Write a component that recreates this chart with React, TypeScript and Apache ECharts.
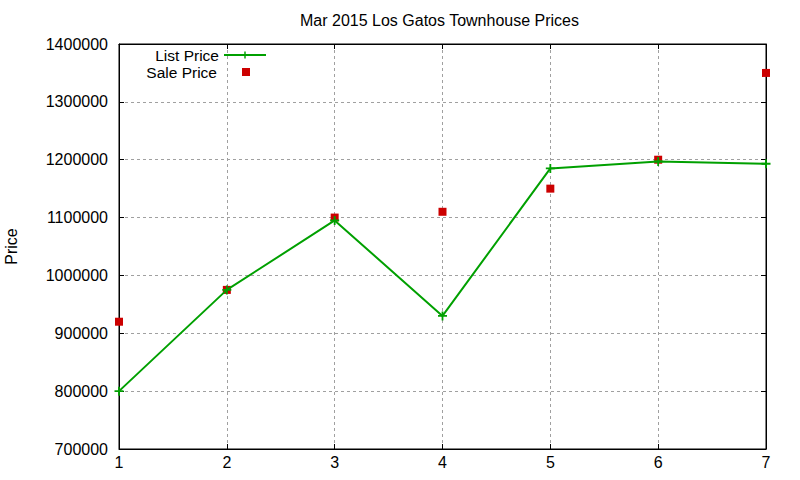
import React, { useEffect, useRef } from "react";
import * as echarts from "echarts";

const xValues = [1, 2, 3, 4, 5, 6, 7];
const listPrice = [800000, 975000, 1095000, 930000, 1185000, 1197000, 1193000];
const salePrice = [920000, 975000, 1100000, 1110000, 1150000, 1200000, 1350000];
const titleText = "Mar 2015 Los Gatos Townhouse Prices";
const yAxisName = "Price";
const seriesNames = ["List Price", "Sale Price"];

const FONT = "'Liberation Sans', Arial, sans-serif";
const PLUS = "path://M0,3.6H9V5.4H0ZM3.6,0H5.4V9H3.6Z";

export default function App() {
  const ref = useRef<HTMLDivElement>(null);
  useEffect(() => {
    document.body.style.margin = "0";
    const chart = echarts.init(ref.current!, null, { renderer: "svg" });
    const gridLine = { show: true, lineStyle: { color: "#a0a0a0", type: [3, 3] as any, width: 1 } };
    const axLine = { show: true, lineStyle: { color: "#000", width: 1 } };
    const tick = { show: true, inside: true, length: 5, lineStyle: { color: "#000", width: 1 } };
    const legendText = { fontSize: 15.5, lineHeight: 16, color: "#000", fontFamily: FONT };
    chart.setOption({
      animation: false,
      backgroundColor: "#fff",
      textStyle: { fontFamily: FONT },
      title: {
        text: titleText,
        left: 300,
        top: 12,
        padding: 0,
        textStyle: { fontSize: 16, fontWeight: "normal", color: "#000", fontFamily: FONT },
      },
      legend: [
        {
          orient: "vertical",
          align: "right",
          right: 533,
          top: 47,
          padding: 0,
          itemWidth: 42,
          itemHeight: 9,
          selectedMode: false,
          data: [seriesNames[0]],
          textStyle: legendText,
        },
        {
          orient: "vertical",
          align: "right",
          right: 550,
          top: 64,
          padding: 0,
          itemWidth: 8,
          itemHeight: 8,
          selectedMode: false,
          data: [seriesNames[1]],
          textStyle: { ...legendText, padding: [0, 20, 0, 0] },
        },
      ],
      grid: {
        left: 119,
        right: 34,
        top: 44,
        bottom: 31,
        outerBoundsMode: "none",
        containLabel: false,
        show: true,
        borderColor: "#000",
        borderWidth: 1,
        backgroundColor: "transparent",
      },
      xAxis: [
        {
          type: "value",
          min: 1,
          max: 7,
          interval: 1,
          position: "bottom",
          axisLine: axLine,
          axisTick: tick,
          splitLine: gridLine,
          axisLabel: { fontSize: 16, color: "#000", margin: 5, fontFamily: FONT },
        },
        {
          type: "value",
          min: 1,
          max: 7,
          interval: 1,
          position: "top",
          axisLine: axLine,
          axisTick: tick,
          splitLine: { show: false },
          axisLabel: { show: false },
        },
      ],
      yAxis: [
        {
          type: "value",
          min: 700000,
          max: 1400000,
          interval: 100000,
          position: "left",
          name: yAxisName,
          nameLocation: "middle",
          nameGap: 100,
          nameTextStyle: { fontSize: 16, color: "#000", fontFamily: FONT },
          axisLine: axLine,
          axisTick: tick,
          splitLine: gridLine,
          axisLabel: {
            fontSize: 16,
            color: "#000",
            margin: 11,
            fontFamily: FONT,
            formatter: (v: number) => String(v),
          },
        },
        {
          type: "value",
          min: 700000,
          max: 1400000,
          interval: 100000,
          position: "right",
          axisLine: axLine,
          axisTick: tick,
          splitLine: { show: false },
          axisLabel: { show: false },
        },
      ],
      series: [
        {
          name: seriesNames[0],
          type: "line",
          data: xValues.map((x, i) => [x, listPrice[i]]),
          lineStyle: { color: "#00a000", width: 2 },
          itemStyle: { color: "#00a000" },
          symbol: PLUS,
          symbolSize: 9,
          showAllSymbol: true,
        },
        {
          name: seriesNames[1],
          type: "scatter",
          data: xValues.map((x, i) => [x, salePrice[i]]),
          symbol: "rect",
          symbolSize: 8,
          itemStyle: { color: "#cc0000", opacity: 1 },
        },
      ],
    });
    return () => chart.dispose();
  }, []);
  return <div ref={ref} style={{ width: 800, height: 480 }} />;
}
